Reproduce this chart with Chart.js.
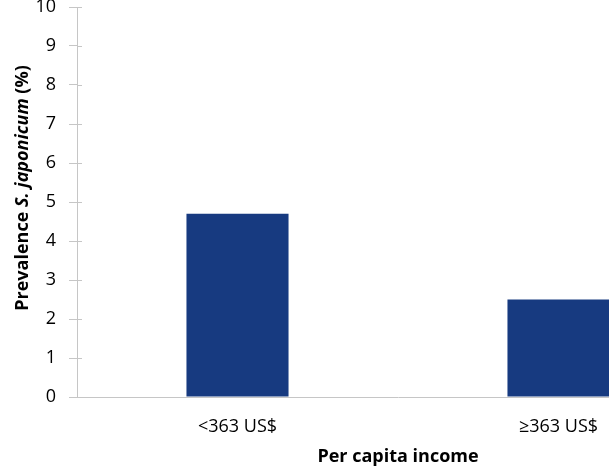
<!DOCTYPE html>
<html>
<head>
<meta charset="utf-8">
<script src="https://cdn.jsdelivr.net/npm/chart.js@4.4.0/dist/chart.umd.min.js"></script>
<style>
html, body { margin: 0; padding: 0; background: #fff; overflow: hidden; }
#wrap { width: 730px; height: 470px; }
</style>
</head>
<body>
<div id="wrap"><canvas id="incomeChart" width="730" height="470"></canvas></div>
<script>
// data
var incomeGroups = ["<363 US$", "\u2265363 US$"];
var prevalence = [4.7, 2.5];
var yTicks = [0, 1, 2, 3, 4, 5, 6, 7, 8, 9, 10];

var axisGrey = "#c6c6c6";
var barBlue = "#173a80";
var fontFamily = "'Open Sans', 'Liberation Sans', sans-serif";

// y title has an italic species name, so draw it by hand
var yTitlePlugin = {
    id: "yTitle",
    afterDraw: function(chart) {
        var ctx = chart.ctx;
        var parts = [
            { text: "Prevalence ", font: "bold 18px " + fontFamily },
            { text: "S. japonicum", font: "italic bold 18px " + fontFamily },
            { text: " (%)", font: "bold 18px " + fontFamily }
        ];
        var total = 0;
        parts.forEach(function(p) { ctx.font = p.font; p.w = ctx.measureText(p.text).width; total += p.w; });
        ctx.save();
        ctx.translate(23, 188);
        ctx.rotate(-Math.PI / 2);
        ctx.fillStyle = "#000";
        ctx.textBaseline = "middle";
        var x = -total / 2;
        parts.forEach(function(p) { ctx.font = p.font; ctx.fillText(p.text, x, 0); x += p.w; });
        ctx.restore();
    }
};

// small inward part of the y tick marks
var innerTicksPlugin = {
    id: "innerTicks",
    afterDraw: function(chart) {
        var y = chart.scales.y;
        var ctx = chart.ctx;
        ctx.save();
        ctx.strokeStyle = axisGrey;
        ctx.lineWidth = 1;
        yTicks.forEach(function(v) {
            if (v === 0) return;
            var py = Math.round(y.getPixelForValue(v)) + 0.5;
            ctx.beginPath();
            ctx.moveTo(y.right, py);
            ctx.lineTo(y.right + 5, py);
            ctx.stroke();
        });
        ctx.restore();
    }
};

new Chart(document.getElementById("incomeChart"), {
    type: "bar",
    data: {
        labels: incomeGroups,
        datasets: [{
            data: prevalence,
            backgroundColor: barBlue,
            borderWidth: 0,
            barPercentage: 0.318,
            categoryPercentage: 1
        }]
    },
    options: {
        responsive: false,
        animation: false,
        layout: { padding: { top: 7, right: 11, left: 0, bottom: 0 } },
        plugins: { legend: { display: false }, tooltip: { enabled: false } },
        scales: {
            x: {
                offset: true,
                grid: { display: true, drawOnChartArea: false, drawTicks: false },
                border: { color: axisGrey, width: 1 },
                ticks: { color: "#000", font: { family: fontFamily, size: 18 }, padding: 19 },
                title: {
                    display: true,
                    text: "Per capita income",
                    color: "#000",
                    font: { family: fontFamily, size: 18, weight: "bold" },
                    padding: { top: 0, bottom: 2 }
                },
                afterFit: function(s) { s.height = 73; s.paddingLeft = 0; s.paddingRight = 0; }
            },
            y: {
                min: 0,
                max: 10,
                grid: { display: true, drawOnChartArea: false, drawTicks: true, tickLength: 8, color: axisGrey },
                border: { color: axisGrey, width: 1 },
                ticks: {
                    stepSize: 1,
                    color: "#000",
                    font: { family: fontFamily, size: 18 },
                    padding: 13
                },
                afterFit: function(s) { s.width = 77; s.paddingTop = 0; s.paddingBottom = 0; }
            }
        }
    },
    plugins: [yTitlePlugin, innerTicksPlugin]
});
</script>
</body>
</html>
